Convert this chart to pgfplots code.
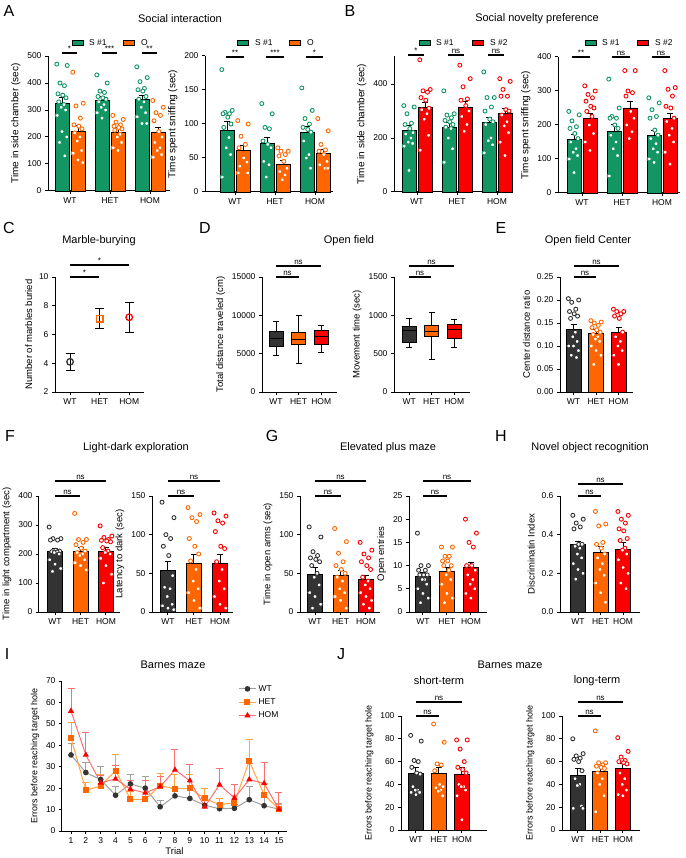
\documentclass[border=0pt]{standalone}
\usepackage{fontspec}
\setmainfont{Liberation Sans}
\usepackage{pgfplots}
\pgfplotsset{compat=1.18}
\definecolor{sgreen}{RGB}{18,150,100}
\definecolor{sorange}{RGB}{255,102,0}
\definecolor{sred}{RGB}{250,0,0}
\definecolor{sgray}{RGB}{51,51,51}
\definecolor{lgray}{RGB}{160,160,160}
\definecolor{lorange}{RGB}{255,165,70}
\definecolor{lred}{RGB}{255,110,110}
\newcommand{\tk}{\fontsize{8.5}{10}\selectfont}
\newcommand{\lb}{\fontsize{9.5}{10}\selectfont}
\newcommand{\lbJ}{\fontsize{9}{10}\selectfont}
\newcommand{\lbA}{\fontsize{10}{11}\selectfont}
\newcommand{\ttl}{\fontsize{11}{13}\selectfont}
\newcommand{\pl}{\fontsize{16}{18}\selectfont}
\newcommand{\sg}{\fontsize{8}{9}\selectfont}
\newcommand{\sig}[4]{\draw[line width=1.1pt] (#1,#3)--(#2,#3); \node[font=\sg, anchor=south, inner sep=1pt] at ({(#1+#2)/2},#3) {#4};}
\newcommand{\lgb}[3]{\draw[fill=#3, line width=0.8pt] (#1,#2-2.5) rectangle (#1+11,#2+2.5);}
\pgfplotsset{
  gpbase/.style={scale only axis, axis lines=left, axis line style={-,line width=1pt,black},
    tick align=outside, major tick length=3pt, tick style={line width=1pt,black},
    clip=false, scaled ticks=false, tick label style={font=\tk},
    ylabel style={font=\lb}, xlabel style={font=\lb},
    /pgf/number format/assume math mode=true, /pgf/number format/1000 sep={},
    enlargelimits=false, ymin=0},
  gp/.style={gpbase, xtick={1,2,3}, xticklabels={WT,HET,HOM}},
  bars/.style n args={2}{ybar, /pgf/bar shift=0pt, bar width=#1, fill=#2, draw=black, line width=0.9pt,
    /pgfplots/error bars/y dir=plus, /pgfplots/error bars/y explicit,
    /pgfplots/error bars/error bar style={line width=1pt,black},
    /pgfplots/error bars/error mark options={rotate=90,mark size=3pt,line width=1pt,black}},
  dots/.style={only marks, mark=*, mark size=2pt, mark options={fill=white, draw=#1, line width=0.9pt}},
  whisk/.style={only marks, mark size=0pt, /pgfplots/error bars/y dir=#1, /pgfplots/error bars/y explicit,
    /pgfplots/error bars/error bar style={line width=0.9pt,black},
    /pgfplots/error bars/error mark options={rotate=90,mark size=3pt,line width=0.9pt,black}},
  box/.style={fill=#1, draw=black, line width=0.9pt},
}
\begin{document}
\begin{tikzpicture}
\path[use as bounding box] (0,0) rectangle (685pt,-858pt);

% ---------------- A left
\begin{axis}[gp, at={(48pt,-191pt)}, anchor=south west, width=122pt, height=135pt,
  xmin=0.45, xmax=3.5, ymax=500, ytick={0,100,...,500}, ylabel={Time in side chamber (sec)}, ylabel style={font=\lbA}]
\addplot[bars={14pt}{sgreen}] coordinates {(0.8,325) +- (0,23) (1.8,335) +- (0,15) (2.8,340) +- (0,15)};
\addplot[bars={14pt}{sorange}] coordinates {(1.2,222) +- (0,21) (2.2,218) +- (0,16) (3.2,218) +- (0,17)};
\addplot[dots=sgreen] coordinates {(0.67,470)(0.93,465)(0.75,400)(0.86,390)(0.70,360)(0.82,355)(0.90,345)(0.72,330)(0.85,320)(0.78,310)(0.89,300)(0.68,280)(0.80,220)(0.92,200)(0.74,180)(0.87,130)
 (1.67,430)(1.93,400)(1.75,370)(1.86,365)(1.70,350)(1.82,345)(1.90,340)(1.72,330)(1.85,320)(1.78,310)(1.89,300)(1.68,290)(1.80,270)
 (2.67,460)(2.93,420)(2.75,405)(2.86,380)(2.70,375)(2.82,370)(2.90,350)(2.72,340)(2.85,330)(2.78,310)(2.89,290)(2.68,275)(2.80,250)(2.92,250)};
\addplot[dots=sorange] coordinates {(1.07,440)(1.33,325)(1.15,315)(1.26,270)(1.10,245)(1.22,240)(1.30,230)(1.12,215)(1.25,200)(1.18,185)(1.29,150)(1.08,140)(1.20,115)(1.32,105)
 (2.07,280)(2.33,265)(2.15,255)(2.26,245)(2.10,240)(2.22,235)(2.30,230)(2.12,225)(2.25,210)(2.18,200)(2.29,180)(2.08,160)(2.20,150)
 (3.07,335)(3.33,310)(3.15,290)(3.26,280)(3.10,260)(3.22,220)(3.30,200)(3.12,180)(3.25,160)(3.18,150)(3.29,135)(3.08,125)};
\end{axis}

% ---------------- A right
\begin{axis}[gp, at={(205pt,-192pt)}, anchor=south west, width=128pt, height=136pt,
  xmin=0.25, xmax=3.45, ymax=200, ytick={0,50,...,200}, ylabel={Time spent sniffing (sec)}, ylabel style={font=\lbA}]
\addplot[bars={14pt}{sgreen}] coordinates {(0.8,91) +- (0,12) (1.8,72) +- (0,8) (2.8,88) +- (0,8)};
\addplot[bars={14pt}{sorange}] coordinates {(1.2,61) +- (0,7) (2.2,40) +- (0,6) (3.2,57) +- (0,6)};
\addplot[dots=sgreen] coordinates {(0.67,180)(0.93,120)(0.75,117)(0.86,115)(0.70,115)(0.82,110)(0.90,100)(0.72,95)(0.85,80)(0.78,65)(0.89,55)(0.68,22)
 (1.67,130)(1.93,115)(1.75,95)(1.86,93)(1.70,75)(1.82,70)(1.90,65)(1.72,45)(1.85,40)(1.78,22)
 (2.67,153)(2.93,120)(2.75,108)(2.86,100)(2.70,95)(2.82,92)(2.90,88)(2.72,75)(2.85,55)(2.78,50)(2.89,35)};
\addplot[dots=sorange] coordinates {(1.07,105)(1.33,100)(1.15,82)(1.26,70)(1.10,65)(1.22,50)(1.30,44)(1.12,38)(1.32,28)(1.08,28)
 (2.07,65)(2.33,60)(2.15,60)(2.26,55)(2.10,53)(2.22,45)(2.30,35)(2.12,30)(2.25,25)(2.18,18)
 (3.07,108)(3.33,90)(3.15,70)(3.26,62)(3.10,60)(3.22,55)(3.30,45)(3.12,40)(3.25,35)(3.32,35)};
\end{axis}

% ---------------- B left
\begin{axis}[gp, at={(394pt,-192pt)}, anchor=south west, width=119pt, height=136pt,
  xmin=0.425, xmax=3.4, ymax=504, ytick={0,200,400}, ylabel={Time in side chamber (sec)}, ylabel style={font=\lbA}]
\addplot[bars={14pt}{sgreen}] coordinates {(0.8,229) +- (0,16) (1.8,240) +- (0,18) (2.8,257) +- (0,18)};
\addplot[bars={14pt}{sred}] coordinates {(1.2,313) +- (0,17) (2.2,314) +- (0,21) (3.2,291) +- (0,19)};
\addplot[dots=sgreen] coordinates {(0.67,320)(0.93,315)(0.75,290)(0.86,255)(0.70,250)(0.82,235)(0.90,220)(0.72,215)(0.85,200)(0.78,185)(0.89,180)(0.68,170)(0.80,80)
 (1.67,375)(1.93,290)(1.75,285)(1.86,275)(1.70,265)(1.82,260)(1.90,250)(1.72,240)(1.85,235)(1.78,200)(1.89,160)(1.68,110)
 (2.67,445)(2.93,350)(2.75,350)(2.86,315)(2.70,300)(2.82,270)(2.90,260)(2.72,250)(2.85,200)(2.78,190)(2.89,175)(2.68,145)};
\addplot[dots=sred] coordinates {(1.07,490)(1.33,380)(1.15,375)(1.26,370)(1.10,350)(1.22,340)(1.30,310)(1.12,305)(1.25,290)(1.18,270)(1.29,210)(1.08,155)
 (2.07,470)(2.33,420)(2.15,390)(2.26,345)(2.10,340)(2.22,320)(2.30,300)(2.12,280)(2.25,250)(2.18,225)
 (3.07,420)(3.33,410)(3.15,380)(3.26,355)(3.10,355)(3.22,305)(3.30,300)(3.12,285)(3.25,260)(3.18,245)(3.29,220)(3.08,185)(3.20,135)};
\end{axis}

% ---------------- B right
\begin{axis}[gp, at={(558pt,-193pt)}, anchor=south west, width=122pt, height=136pt,
  xmin=0.4, xmax=3.45, ymax=400, ytick={0,100,...,400}, ylabel={Time spent sniffing (sec)}, ylabel style={font=\lbA}]
\addplot[bars={14pt}{sgreen}] coordinates {(0.8,158) +- (0,14) (1.8,182) +- (0,20) (2.8,168) +- (0,15)};
\addplot[bars={14pt}{sred}] coordinates {(1.2,220) +- (0,15) (2.2,250) +- (0,18) (3.2,218) +- (0,17)};
\addplot[dots=sgreen] coordinates {(0.67,240)(0.93,230)(0.75,212)(0.86,195)(0.70,190)(0.82,175)(0.90,160)(0.72,150)(0.85,130)(0.78,120)(0.89,110)(0.68,100)(0.80,60)
 (1.67,335)(1.93,250)(1.75,225)(1.86,220)(1.70,220)(1.82,200)(1.90,190)(1.72,170)(1.85,150)(1.78,130)(1.89,110)(1.68,50)
 (2.67,280)(2.93,265)(2.75,245)(2.86,225)(2.70,220)(2.82,185)(2.90,170)(2.72,160)(2.85,145)(2.78,130)(2.89,120)(2.68,100)(2.80,90)};
\addplot[dots=sred] coordinates {(1.07,315)(1.33,300)(1.15,290)(1.26,280)(1.10,270)(1.22,255)(1.30,250)(1.12,240)(1.25,225)(1.18,200)(1.29,175)(1.08,150)(1.20,125)
 (2.07,360)(2.33,360)(2.15,300)(2.26,295)(2.10,285)(2.22,240)(2.30,220)(2.12,200)(2.25,180)(2.18,160)
 (3.07,360)(3.33,310)(3.15,305)(3.26,285)(3.10,255)(3.22,250)(3.30,220)(3.12,210)(3.25,190)(3.18,170)(3.29,150)(3.08,120)(3.20,85)};
\end{axis}

% ---------------- C
\begin{axis}[gp, at={(55pt,-392pt)}, anchor=south west, width=89pt, height=115pt,
  xmin=0.49, xmax=3.5, ymin=2, ymax=10, ytick={2,4,...,10}, ylabel={Number of marbles buried}]
\addplot[only marks, mark=o, mark size=3.3pt, mark options={draw=sgray, line width=1.3pt},
  error bars/y dir=both, error bars/y explicit, error bars/error bar style={line width=1pt,black},
  error bars/error mark options={rotate=90,mark size=4.5pt,line width=1pt,black}] coordinates {(1,4.1) +- (0,0.6)};
\addplot[only marks, mark=square, mark size=3.3pt, mark options={draw=sorange, line width=1.3pt},
  error bars/y dir=both, error bars/y explicit, error bars/error bar style={line width=1pt,black},
  error bars/error mark options={rotate=90,mark size=4.5pt,line width=1pt,black}] coordinates {(2,7.1) +- (0,0.7)};
\addplot[only marks, mark=o, mark size=3.3pt, mark options={draw=sred, line width=1.3pt},
  error bars/y dir=both, error bars/y explicit, error bars/error bar style={line width=1pt,black},
  error bars/error mark options={rotate=90,mark size=4.5pt,line width=1pt,black}] coordinates {(3,7.2) +- (0,1.03)};
\end{axis}

% ---------------- D left (box plots: whiskers, boxes, medians)
\begin{axis}[gp, at={(262pt,-392pt)}, anchor=south west, width=75pt, height=115pt,
  xmin=0.38, xmax=3.7, ymax=15000, ytick={0,5000,10000,15000}, ylabel={Total distance traveled (cm)}]
\addplot[whisk=plus] coordinates {(1,7900) +- (0,1300) (2,7750) +- (0,2250) (3,8000) +- (0,700)};
\addplot[whisk=minus] coordinates {(1,5900) +- (0,1100) (2,6150) +- (0,2450) (3,6200) +- (0,1100)};
\addplot[box=sgray] coordinates {(0.69,5900)(1.31,5900)(1.31,7900)(0.69,7900)} --cycle;
\addplot[box=sorange] coordinates {(1.69,6150)(2.31,6150)(2.31,7750)(1.69,7750)} --cycle;
\addplot[box=sred] coordinates {(2.69,6200)(3.31,6200)(3.31,8000)(2.69,8000)} --cycle;
\addplot[black, line width=1pt] coordinates {(0.69,7000)(1.31,7000)};
\addplot[black, line width=1pt] coordinates {(1.69,6800)(2.31,6800)};
\addplot[black, line width=1pt] coordinates {(2.69,7300)(3.31,7300)};
\end{axis}

% ---------------- D right
\begin{axis}[gp, at={(394pt,-392pt)}, anchor=south west, width=76pt, height=115pt,
  xmin=0.33, xmax=3.7, ymax=1500, ytick={0,500,1000,1500}, ylabel={Movement time (sec)}]
\addplot[whisk=plus] coordinates {(1,861) +- (0,96) (2,874) +- (0,161) (3,887) +- (0,61)};
\addplot[whisk=minus] coordinates {(1,652) +- (0,65) (2,730) +- (0,304) (3,696) +- (0,109)};
\addplot[box=sgray] coordinates {(0.69,652)(1.31,652)(1.31,861)(0.69,861)} --cycle;
\addplot[box=sorange] coordinates {(1.69,730)(2.31,730)(2.31,874)(1.69,874)} --cycle;
\addplot[box=sred] coordinates {(2.69,696)(3.31,696)(3.31,887)(2.69,887)} --cycle;
\addplot[black, line width=1pt] coordinates {(0.69,800)(1.31,800)};
\addplot[black, line width=1pt] coordinates {(1.69,783)(2.31,783)};
\addplot[black, line width=1pt] coordinates {(2.69,817)(3.31,817)};
\end{axis}

% ---------------- E
\begin{axis}[gp, at={(560pt,-392pt)}, anchor=south west, width=73pt, height=115pt,
  xmin=0.4, xmax=3.64, ymax=0.25, ytick={0,0.05,0.1,0.15,0.2,0.25},
  yticklabel style={/pgf/number format/.cd, fixed, fixed zerofill, precision=2}, ylabel={Center distance ratio}]
\addplot[bars={15pt}{sgray}] coordinates {(1,0.135) +- (0,0.012)};
\addplot[bars={15pt}{sorange}] coordinates {(2,0.128) +- (0,0.007)};
\addplot[bars={15pt}{sred}] coordinates {(3,0.129) +- (0,0.012)};
\addplot[dots=sgray] coordinates {(0.77,0.203)(1.23,0.200)(0.92,0.195)(1.10,0.180)(0.82,0.175)(1.03,0.170)(1.18,0.165)(0.87,0.160)(1.08,0.130)(0.97,0.120)(1.16,0.110)(0.79,0.100)(1.00,0.100)(1.22,0.090)(0.90,0.080)(1.13,0.075)};
\addplot[dots=sorange] coordinates {(1.77,0.155)(2.23,0.152)(1.92,0.150)(2.10,0.145)(1.82,0.140)(2.03,0.135)(2.18,0.130)(1.87,0.125)(2.08,0.120)(1.97,0.115)(2.16,0.110)(1.79,0.100)(2.00,0.090)(2.22,0.080)(1.90,0.060)};
\addplot[dots=sred] coordinates {(2.77,0.180)(3.23,0.175)(2.92,0.175)(3.10,0.170)(2.82,0.165)(3.03,0.160)(3.18,0.130)(2.87,0.120)(3.08,0.110)(2.97,0.100)(3.16,0.090)(2.79,0.080)(3.00,0.060)};
\end{axis}

% ---------------- F left
\begin{axis}[gp, at={(39pt,-612pt)}, anchor=south west, width=81pt, height=116pt,
  xmin=0.37, xmax=3.55, ymax=400, ytick={0,100,...,400}, ylabel={Time in light compartment (sec)}]
\addplot[bars={15pt}{sgray}] coordinates {(1,210) +- (0,10)};
\addplot[bars={15pt}{sorange}] coordinates {(2,208) +- (0,14)};
\addplot[bars={15pt}{sred}] coordinates {(3,208) +- (0,14)};
\addplot[dots=sgray] coordinates {(0.77,293)(1.23,253)(0.92,253)(1.10,248)(0.82,248)(1.03,213)(1.18,210)(0.87,208)(1.08,207)(0.97,205)(1.16,200)(0.79,180)(1.00,165)(1.22,150)(0.90,140)};
\addplot[dots=sorange] coordinates {(1.77,340)(2.23,250)(1.92,250)(2.10,240)(1.82,232)(2.03,220)(2.18,210)(1.87,205)(2.08,200)(1.97,195)(2.16,180)(1.79,170)(2.00,160)(2.22,145)};
\addplot[dots=sred] coordinates {(2.77,297)(3.23,262)(2.92,257)(3.10,250)(2.82,247)(3.03,245)(3.18,242)(2.87,222)(3.08,210)(2.97,205)(3.16,200)(2.79,185)(3.00,160)(3.22,130)(2.90,100)};
\end{axis}

% ---------------- F right
\begin{axis}[gp, at={(152pt,-612pt)}, anchor=south west, width=81pt, height=116pt,
  xmin=0.385, xmax=3.5, ymax=150, ytick={0,50,100,150}, ylabel={Latency to dark (sec)}]
\addplot[bars={15pt}{sgray}] coordinates {(1,54) +- (0,11)};
\addplot[bars={15pt}{sorange}] coordinates {(2,63) +- (0,11)};
\addplot[bars={15pt}{sred}] coordinates {(3,63) +- (0,11)};
\addplot[dots=sgray] coordinates {(0.77,142)(1.23,122)(0.92,100)(1.10,95)(0.82,85)(1.03,73)(1.18,47)(0.87,32)(1.08,30)(0.97,20)(1.16,10)(0.79,8)(1.00,5)(1.22,3)};
\addplot[dots=sorange] coordinates {(1.77,135)(2.23,126)(1.92,122)(2.10,117)(1.82,95)(2.03,85)(2.18,75)(1.87,66)(2.08,55)(1.97,40)(2.16,30)(1.79,25)(2.00,15)(2.22,5)};
\addplot[dots=sred] coordinates {(2.77,128)(3.23,124)(2.92,118)(3.10,115)(2.82,104)(3.03,85)(3.18,82)(2.87,65)(3.08,55)(2.97,40)(3.16,30)(2.79,20)(3.00,10)(3.22,5)};
\end{axis}

% ---------------- G left
\begin{axis}[gp, at={(300pt,-612pt)}, anchor=south west, width=80pt, height=116pt,
  xmin=0.41, xmax=3.55, ymax=150, ytick={0,50,100,150}, ylabel={Time in open arms (sec)}]
\addplot[bars={15pt}{sgray}] coordinates {(1,49) +- (0,8)};
\addplot[bars={15pt}{sorange}] coordinates {(2,47) +- (0,7)};
\addplot[bars={15pt}{sred}] coordinates {(3,42) +- (0,5)};
\addplot[dots=sgray] coordinates {(0.77,110)(1.23,97)(0.92,78)(1.10,73)(0.82,70)(1.03,68)(1.18,65)(0.87,60)(1.08,50)(0.97,45)(1.16,35)(0.79,25)(1.00,20)(1.22,10)(0.90,5)};
\addplot[dots=sorange] coordinates {(1.77,108)(2.23,91)(1.92,76)(2.10,65)(1.82,60)(2.03,55)(2.18,50)(1.87,45)(2.08,40)(1.97,30)(2.16,25)(1.79,20)(2.00,15)(2.22,5)};
\addplot[dots=sred] coordinates {(2.77,90)(3.23,80)(2.92,75)(3.10,70)(2.82,65)(3.03,60)(3.18,55)(2.87,45)(3.08,40)(2.97,35)(3.16,30)(2.79,25)(3.00,20)(3.22,15)(2.90,10)(3.13,5)};
\end{axis}

% ---------------- G right
\begin{axis}[gp, at={(409pt,-612pt)}, anchor=south west, width=78pt, height=116pt,
  xmin=0.42, xmax=3.67, ymax=25, ytick={0,5,...,25}, ylabel={Open entries}]
\addplot[bars={15pt}{sgray}] coordinates {(1,7.6) +- (0,0.9)};
\addplot[bars={15pt}{sorange}] coordinates {(2,8.8) +- (0,0.8)};
\addplot[bars={15pt}{sred}] coordinates {(3,9.5) +- (0,1.2)};
\addplot[dots=sgray] coordinates {(0.77,17)(1.23,10)(0.92,10)(1.10,9)(0.82,9)(1.03,8)(1.18,8)(0.87,8)(1.08,7)(0.97,7)(1.16,6)(0.79,5)(1.00,4)(1.22,3)(0.90,2)};
\addplot[dots=sorange] coordinates {(1.77,14)(2.23,14)(1.92,12)(2.10,12)(1.82,11)(2.03,11)(2.18,10)(1.87,10)(2.08,9)(1.97,8)(2.16,7)(1.79,6)(2.00,4)(2.22,3)(1.90,2)};
\addplot[dots=sred] coordinates {(2.77,20)(3.23,17)(2.92,15)(3.10,14)(2.82,10)(3.03,10)(3.18,9)(2.87,8)(3.08,7)(2.97,6)(3.16,5)(2.79,4)(3.00,3)};
\end{axis}

% ---------------- H
\begin{axis}[gp, at={(560pt,-612pt)}, anchor=south west, width=80pt, height=116pt,
  xmin=0.2, xmax=3.75, ymax=0.6, ytick={0,0.2,0.4,0.6},
  yticklabel style={/pgf/number format/.cd, fixed, fixed zerofill, precision=1}, ylabel={Discriminatin Index}]
\addplot[bars={15pt}{sgray}] coordinates {(1,0.35) +- (0,0.015)};
\addplot[bars={15pt}{sorange}] coordinates {(2,0.31) +- (0,0.03)};
\addplot[bars={15pt}{sred}] coordinates {(3,0.325) +- (0,0.035)};
\addplot[dots=sgray] coordinates {(0.77,0.50)(1.23,0.48)(0.92,0.46)(1.10,0.44)(0.82,0.43)(1.03,0.35)(1.18,0.35)(0.87,0.34)(1.08,0.33)(0.97,0.30)(1.16,0.28)(0.79,0.25)(1.00,0.22)(1.22,0.20)(0.90,0.17)};
\addplot[dots=sorange] coordinates {(1.77,0.52)(2.23,0.455)(1.92,0.445)(2.10,0.36)(1.82,0.35)(2.03,0.33)(2.18,0.30)(1.87,0.28)(2.08,0.25)(1.97,0.22)(2.16,0.19)(1.79,0.15)(2.00,0.10)(2.22,0.05)};
\addplot[dots=sred] coordinates {(2.77,0.52)(3.23,0.50)(2.92,0.48)(3.10,0.46)(2.82,0.43)(3.03,0.42)(3.18,0.38)(2.87,0.37)(3.08,0.33)(2.97,0.32)(3.16,0.30)(2.79,0.27)(3.00,0.23)(3.22,0.20)(2.90,0.15)(3.13,0.12)};
\end{axis}

% ---------------- I
\begin{axis}[gpbase, at={(62pt,-831pt)}, anchor=south west, width=225pt, height=150pt,
  xmin=0.394, xmax=15.54, ymax=70, ytick={0,10,...,70}, xtick={1,...,15},
  xlabel={Trial}, ylabel={Errors before reaching target hole}, ylabel style={font=\lbJ}, xlabel style={yshift=3pt},
  legend style={at={(0.77,1.0)}, anchor=north west, draw=none, fill=none, font=\tk, row sep=2pt},
  legend cell align=left]
\addplot[color=lgray, line width=1pt, mark=*, mark size=2.3pt, mark options={fill=sgray, draw=sgray},
  error bars/y dir=plus, error bars/y explicit, error bars/error bar style={line width=1pt,lgray},
  error bars/error mark options={rotate=90,mark size=3.5pt,line width=1pt,lgray}]
  coordinates {(1,35.5) +- (0,5.5) (2,27.3) +- (0,4.7) (3,24) +- (0,6) (4,16.7) +- (0,4.3) (5,22) +- (0,4.5) (6,20) +- (0,5.3) (7,11.3) +- (0,3) (8,16.4) +- (0,3.4) (9,15.2) +- (0,4.6) (10,12) +- (0,3.5) (11,10.4) +- (0,2) (12,10.6) +- (0,1.7) (13,14.6) +- (0,6.4) (14,11.8) +- (0,3.7) (15,10.2) +- (0,2.6)};
\addlegendentry{WT}
\addplot[color=lorange, line width=1pt, mark=square*, mark size=2.5pt, mark options={fill=sorange, draw=sorange},
  error bars/y dir=plus, error bars/y explicit, error bars/error bar style={line width=1pt,lorange},
  error bars/error mark options={rotate=90,mark size=3.5pt,line width=1pt,lorange}]
  coordinates {(1,43.4) +- (0,7.3) (2,19) +- (0,3.8) (3,21) +- (0,5.2) (4,28.2) +- (0,7.6) (5,14.8) +- (0,3.5) (6,14.8) +- (0,3.2) (7,21.2) +- (0,5.8) (8,19.7) +- (0,6.8) (9,19.9) +- (0,6.4) (10,15.2) +- (0,4.6) (11,12.3) +- (0,2.7) (12,13.2) +- (0,3.3) (13,32.7) +- (0,9.8) (14,17) +- (0,5.3) (15,10.2) +- (0,2.3)};
\addlegendentry{HET}
\addplot[color=lred, line width=1pt, mark=triangle*, mark size=2.6pt, mark options={fill=sred, draw=sred},
  error bars/y dir=plus, error bars/y explicit, error bars/error bar style={line width=1pt,lred},
  error bars/error mark options={rotate=90,mark size=3.5pt,line width=1pt,lred}]
  coordinates {(1,56) +- (0,10.5) (2,35.5) +- (0,10.3) (3,22.5) +- (0,3.5) (4,24.3) +- (0,6.3) (5,19.5) +- (0,4.3) (6,17.8) +- (0,5.7) (7,20.7) +- (0,4.8) (8,28.5) +- (0,9.5) (9,23.5) +- (0,7.5) (10,11.3) +- (0,3.9) (11,21.6) +- (0,7.4) (12,15.4) +- (0,6.1) (13,24) +- (0,7.5) (14,22.2) +- (0,9.6) (15,10.1) +- (0,7.9)};
\addlegendentry{HOM}
\end{axis}

% ---------------- J left
\begin{axis}[gp, at={(401pt,-830pt)}, anchor=south west, width=86pt, height=114pt,
  xmin=0.35, xmax=4.09, ymax=100, ytick={0,20,...,100}, ylabel={Errors before reaching target hole}, ylabel style={font=\lbJ}]
\addplot[bars={15pt}{sgray}] coordinates {(1,50) +- (0,5)};
\addplot[bars={15pt}{sorange}] coordinates {(2,50) +- (0,5)};
\addplot[bars={15pt}{sred}] coordinates {(3,49) +- (0,6)};
\addplot[dots=sgray] coordinates {(0.77,83)(1.23,78)(0.92,61)(1.10,60)(0.82,55)(1.03,50)(1.18,49)(0.87,38)(1.08,35)(0.97,35)(1.16,33)(0.79,33)(1.00,31)};
\addplot[dots=sorange] coordinates {(1.77,93)(2.23,77)(1.92,58)(2.10,57)(1.82,52)(2.03,40)(2.18,38)(1.87,37)(2.08,35)(1.97,34)(2.16,30)};
\addplot[dots=sred] coordinates {(2.77,79)(3.23,79)(2.92,71)(3.10,60)(2.82,55)(3.03,53)(3.18,50)(2.87,40)(3.08,38)(2.97,38)(3.16,35)(2.79,30)(3.00,9)};
\end{axis}

% ---------------- J right
\begin{axis}[gp, at={(562pt,-830pt)}, anchor=south west, width=78pt, height=114pt,
  xmin=0.29, xmax=3.76, ymax=100, ytick={0,20,...,100}, ylabel={Errors before reaching target hole}, ylabel style={font=\lbJ}]
\addplot[bars={15pt}{sgray}] coordinates {(1,48) +- (0,6)};
\addplot[bars={15pt}{sorange}] coordinates {(2,51) +- (0,5)};
\addplot[bars={15pt}{sred}] coordinates {(3,54) +- (0,4)};
\addplot[dots=sgray] coordinates {(0.77,80)(1.23,67)(0.92,65)(1.10,63)(0.82,62)(1.03,60)(1.18,52)(0.87,45)(1.08,40)(0.97,39)(1.16,21)(0.79,19)(1.22,19)};
\addplot[dots=sorange] coordinates {(1.77,87)(2.23,59)(1.92,59)(2.10,57)(1.82,56)(2.03,55)(2.18,54)(1.87,50)(2.08,45)(1.97,40)(2.16,30)(1.79,16)};
\addplot[dots=sred] coordinates {(2.77,81)(3.23,69)(2.92,64)(3.10,61)(2.82,60)(3.03,59)(3.18,58)(2.87,50)(3.08,45)(2.97,40)(3.16,35)(2.79,31)(3.00,30)};
\end{axis}

% ---------------- annotations (pixel coordinates, y down)
\begin{scope}[x=1pt, y=-1pt]
\node[font=\pl] at (9,11) {A};
\node[font=\pl] at (350,11) {B};
\node[font=\ttl] at (180,19) {Social interaction};
\node[font=\ttl] at (537,19) {Social novelty preference};
\lgb{72}{43}{sgreen} \node[font=\tk, anchor=west, inner sep=0] at (89,43) {S \#1};
\lgb{123}{43}{sorange} \node[font=\tk, anchor=west, inner sep=0] at (141,43) {O};
\lgb{237}{43}{sgreen} \node[font=\tk, anchor=west, inner sep=0] at (255,43) {S \#1};
\lgb{289}{43}{sorange} \node[font=\tk, anchor=west, inner sep=0] at (307,43) {O};
\lgb{419}{43}{sgreen} \node[font=\tk, anchor=west, inner sep=0] at (436,43) {S \#1};
\lgb{472}{43}{sred} \node[font=\tk, anchor=west, inner sep=0] at (490,43) {S \#2};
\lgb{585}{43}{sgreen} \node[font=\tk, anchor=west, inner sep=0] at (602,43) {S \#1};
\lgb{637}{43}{sred} \node[font=\tk, anchor=west, inner sep=0] at (655,43) {S \#2};
\sig{62}{77}{53}{*} \sig{102}{117}{53}{***} \sig{142}{157}{53}{**}
\sig{226}{244}{57}{**} \sig{266}{284}{57}{***} \sig{306}{323}{57}{*}
\sig{408}{424}{55}{*} \sig{448}{464}{55}{ns} \sig{488}{504}{55}{ns}
\sig{572}{590}{57}{**} \sig{612}{630}{57}{ns} \sig{652}{670}{57}{ns}
\node[font=\pl] at (9,228) {C};
\node[font=\pl] at (205,228) {D};
\node[font=\pl] at (501,228) {E};
\node[font=\ttl] at (99,241) {Marble-burying};
\node[font=\ttl] at (349,241) {Open field};
\node[font=\ttl] at (588,241) {Open field Center};
\sig{70}{99}{277}{*} \sig{70}{129}{265}{*}
\sig{276}{299}{277}{ns} \sig{276}{321}{266}{ns}
\sig{409}{431}{277}{ns} \sig{409}{454}{266}{ns}
\sig{574}{596}{277}{ns} \sig{574}{619}{266}{ns}
\node[font=\pl] at (10,436) {F};
\node[font=\pl] at (272,436) {G};
\node[font=\pl] at (501,436) {H};
\node[font=\ttl] at (136,448) {Light-dark exploration};
\node[font=\ttl] at (388,448) {Elevated plus maze};
\node[font=\ttl] at (590,448) {Novel object recognition};
\sig{55}{80}{496}{ns} \sig{55}{106}{481}{ns}
\sig{168}{194}{496}{ns} \sig{168}{220}{481}{ns}
\sig{315}{341}{496}{ns} \sig{315}{366}{481}{ns}
\sig{423}{447}{496}{ns} \sig{423}{471}{481}{ns}
\sig{578}{601}{496}{ns} \sig{578}{623}{484}{ns}
\node[font=\pl] at (7,654) {I};
\node[font=\pl] at (341,654) {J};
\node[font=\ttl] at (173,665) {Barnes maze};
\node[font=\ttl] at (510,665) {Barnes maze};
\node[font=\ttl] at (439,681) {short-term};
\node[font=\ttl] at (597,681) {long-term};
\sig{416}{439}{716}{ns} \sig{416}{462}{702}{ns}
\sig{578}{601}{716}{ns} \sig{578}{623}{702}{ns}
\end{scope}
\end{tikzpicture}
\end{document}
